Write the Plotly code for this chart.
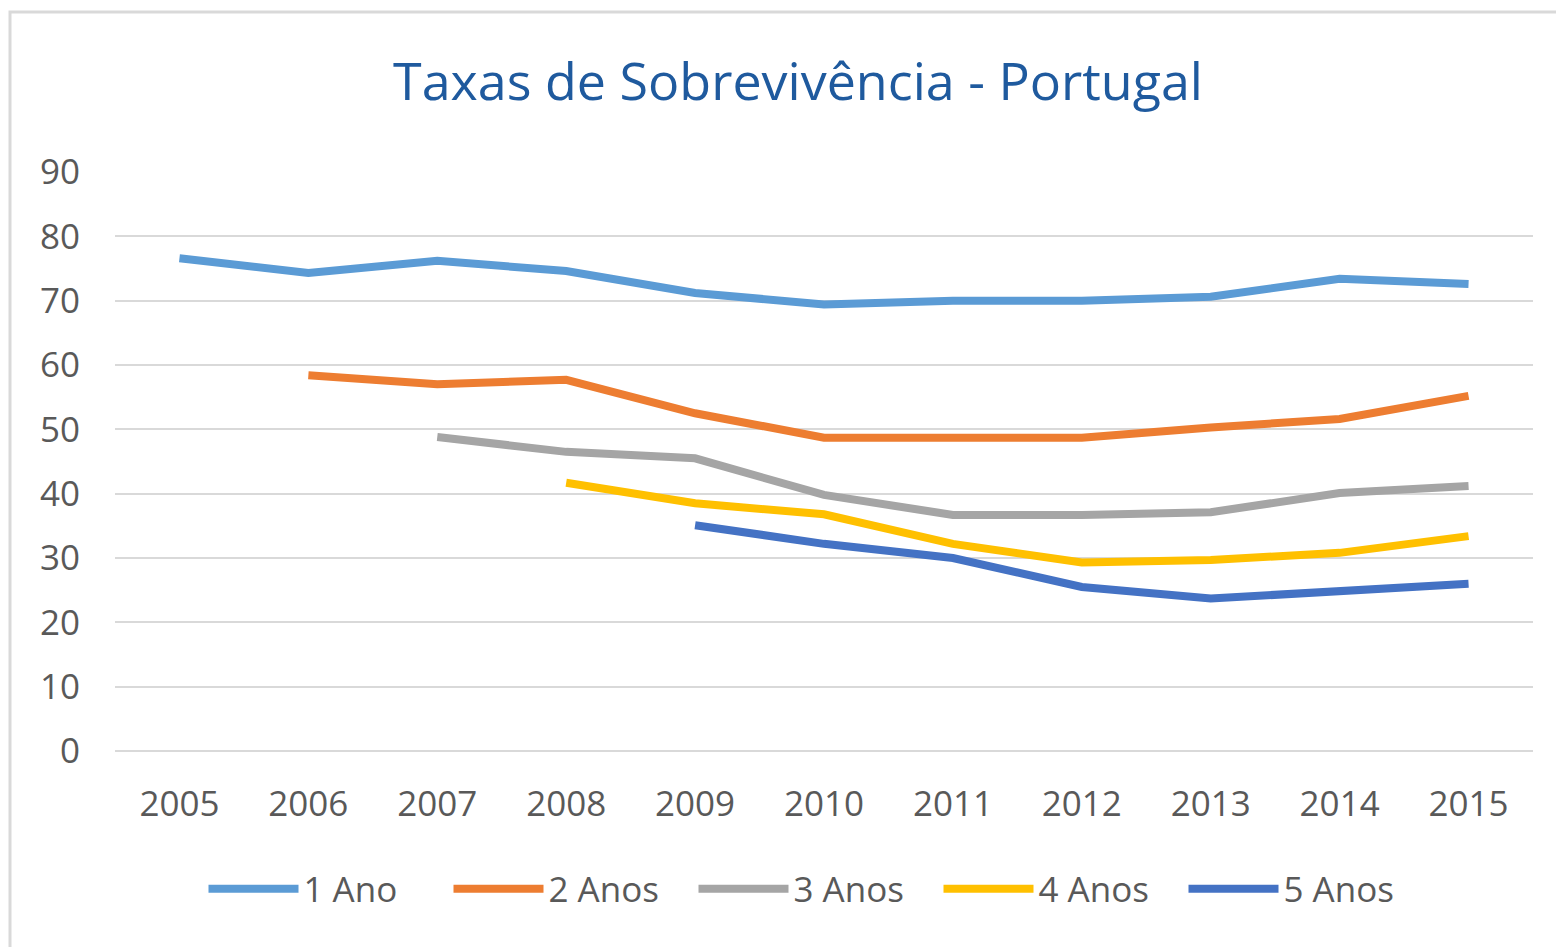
import plotly.graph_objects as go

years = ["2005", "2006", "2007", "2008", "2009", "2010", "2011", "2012", "2013", "2014", "2015"]

ano1 = [76.6, 74.3, 76.2, 74.6, 71.2, 69.4, 70.0, 70.0, 70.6, 73.4, 72.6]
anos2 = [None, 58.4, 57.0, 57.7, 52.5, 48.7, 48.7, 48.7, 50.3, 51.6, 55.2]
anos3 = [None, None, 48.8, 46.5, 45.5, 39.8, 36.7, 36.7, 37.1, 40.1, 41.2]
anos4 = [None, None, None, 41.7, 38.5, 36.8, 32.2, 29.3, 29.7, 30.8, 33.4]
anos5 = [None, None, None, None, 35.1, 32.2, 30.0, 25.5, 23.7, 25.0, 26.0]

series_names = ["1 Ano", "2 Anos", "3 Anos", "4 Anos", "5 Anos"]
series_values = [ano1, anos2, anos3, anos4, anos5]
series_colors = ["#5B9BD5", "#ED7D31", "#A5A5A5", "#FFC000", "#4472C4"]

y_ticks = [0, 10, 20, 30, 40, 50, 60, 70, 80, 90]

# page body has an 8px margin; work in page pixels and convert
OFF = 8
W, H = 1564 - OFF, 947 - OFF
L, R, T, B = 115 - OFF, 31, 172 - OFF, 196
pw = W - L - R
ph = H - T - B


def px_x(p):
    return (p - OFF - L) / pw


def px_y(p):
    return (H - B - (p - OFF)) / ph


def cont_y(p):
    return 1 - (p - OFF) / H


fig = go.Figure()
for name, vals, col in zip(series_names, series_values, series_colors):
    fig.add_trace(go.Scatter(
        x=years, y=vals, name=name, mode="lines",
        line=dict(color=col, width=8),
        connectgaps=False,
    ))

font_family = "Open Sans, Noto Sans, sans-serif"

fig.update_layout(
    width=W, height=H,
    margin=dict(l=L, r=R, t=T, b=B, autoexpand=False),
    paper_bgcolor="white",
    plot_bgcolor="white",
    font=dict(family=font_family, color="#595959", size=35),
    title=dict(
        text="Taxas de Sobrevivência - Portugal",
        font=dict(family=font_family, size=52, color="#1F5A9E"),
        x=px_x(798), xanchor="center", xref="paper",
        y=cont_y(82), yanchor="middle", yref="container",
    ),
    xaxis=dict(
        type="category",
        range=[-0.5, 10.5],
        showgrid=False,
        showline=False,
        zeroline=False,
        ticks="",
        ticklabelstandoff=29,
        tickfont=dict(size=35, color="#595959"),
    ),
    yaxis=dict(
        range=[0, 90],
        tickvals=y_ticks,
        showgrid=True,
        gridcolor="#D9D9D9",
        gridwidth=2,
        zeroline=True,
        zerolinecolor="#D9D9D9",
        zerolinewidth=2,
        showline=False,
        ticks="",
        ticklabelstandoff=34,
        tickfont=dict(size=35, color="#595959"),
    ),
    showlegend=True,
    legend=dict(
        orientation="h",
        x=px_x(816), xanchor="center",
        y=px_y(889), yanchor="middle",
        font=dict(size=35, color="#595959"),
        itemwidth=90,
        entrywidth=140,
        entrywidthmode="pixels",
        bgcolor="rgba(0,0,0,0)",
    ),
    shapes=[dict(
        type="rect", xref="paper", yref="paper",
        x0=px_x(10), x1=px_x(1620), y0=px_y(1000), y1=px_y(12),
        line=dict(color="#D9D9D9", width=3),
        fillcolor="rgba(0,0,0,0)", layer="below",
    )],
)

fig.write_html("out.html")
